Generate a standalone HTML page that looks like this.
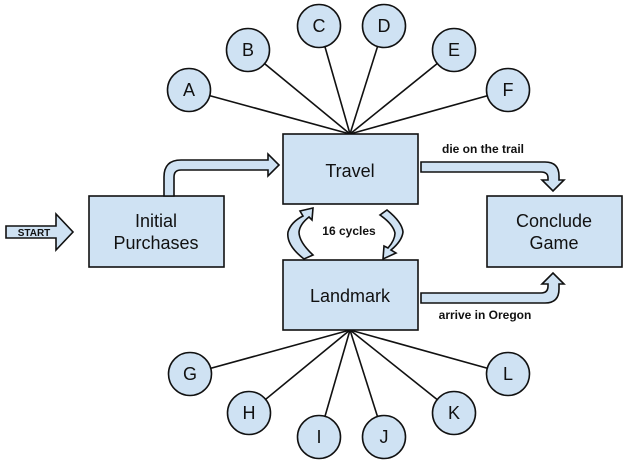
<!DOCTYPE html>
<html><head><style>body{margin:0;background:#fff}svg{display:block}</style></head><body>
<svg width="628" height="462" xmlns="http://www.w3.org/2000/svg" font-family="Liberation Sans, Arial, sans-serif">
<g stroke="#111" stroke-width="1.6">
<line x1="350" y1="134" x2="189" y2="90"/><line x1="350" y1="134" x2="248" y2="50"/>
<line x1="350" y1="134" x2="319" y2="26"/><line x1="350" y1="134" x2="384" y2="26"/>
<line x1="350" y1="134" x2="454" y2="50"/><line x1="350" y1="134" x2="508" y2="90"/>
<line x1="350" y1="330" x2="190" y2="374"/><line x1="350" y1="330" x2="249" y2="413"/>
<line x1="350" y1="330" x2="319" y2="437"/><line x1="350" y1="330" x2="384" y2="437"/>
<line x1="350" y1="330" x2="454" y2="413"/><line x1="350" y1="330" x2="508" y2="374"/>
</g>
<g fill="#cfe2f3" stroke="#111" stroke-width="1.6">
<circle cx="189" cy="90" r="21.5"/><circle cx="248" cy="50" r="21.5"/><circle cx="319" cy="26" r="21.5"/>
<circle cx="384" cy="26" r="21.5"/><circle cx="454" cy="50" r="21.5"/><circle cx="508" cy="90" r="21.5"/>
<circle cx="190" cy="374" r="21.5"/><circle cx="249" cy="413" r="21.5"/><circle cx="319" cy="437" r="21.5"/>
<circle cx="384" cy="437" r="21.5"/><circle cx="454" cy="413" r="21.5"/><circle cx="508" cy="374" r="21.5"/>
<rect x="283" y="134" width="135" height="70"/>
<rect x="283" y="260" width="135" height="70"/>
<rect x="89" y="196" width="135" height="71"/>
<rect x="487" y="196" width="135" height="71"/>
<path d="M6 226 H56 V214 L73 232 L56 250 V238 H6 Z"/>
<path d="M164 196 V177 Q164 160 181 160 H268 V154 L279 165 L268 176 V170 H181 Q174 170 174 177 V196 Z"/>
<path d="M421 162 H545 Q559 162 559 176 V180 H564 L553 191 L542 180 H548 V178 Q548 172 541 172 H421 Z"/>
<path d="M421 303 H545 Q559 303 559 289 V284 H564 L553 273 L542 284 H548 V286 Q548 293 541 293 H421 Z"/>
<path d="M304 259 Q286 245 288 232 Q291 222 303 216 L300 211 L313 208 L312 220 L309 217 Q300 224 299 232 Q299 242 313 255 Z"/>
<path d="M387 210 Q402 222 403 232 Q402 241 391 250 L396 253 L383 259 L384 246 L388 248 Q395 240 395 233 Q393 224 380 215 Z"/>
</g>
<g fill="#111" text-anchor="middle" font-size="18">
<text x="189" y="96">A</text><text x="248" y="56">B</text><text x="319" y="32">C</text>
<text x="384" y="32">D</text><text x="454" y="56">E</text><text x="508" y="96">F</text>
<text x="190" y="380">G</text><text x="249" y="419">H</text><text x="319" y="443">I</text>
<text x="384" y="443">J</text><text x="454" y="419">K</text><text x="508" y="380">L</text>
<text x="350" y="177">Travel</text><text x="350" y="302">Landmark</text>
<text x="156" y="227">Initial</text><text x="156" y="249">Purchases</text>
<text x="554" y="227">Conclude</text><text x="554" y="249">Game</text>
<g font-size="12" font-weight="bold">
<text x="34" y="236" font-size="10">START</text>
<text x="349" y="235">16 cycles</text>
<text x="483" y="153">die on the trail</text>
<text x="485" y="319">arrive in Oregon</text>
</g></g>
</svg>
</body></html>
